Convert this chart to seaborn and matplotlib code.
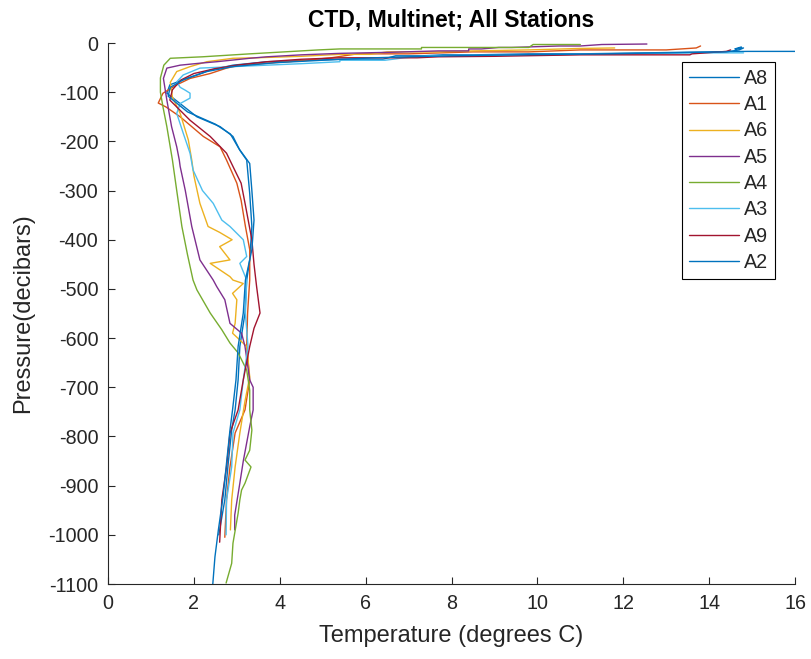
import pandas as pd
import numpy as np
import matplotlib
matplotlib.use("Agg")
import matplotlib.pyplot as plt
import seaborn as sns


#==========================================================================
# CTD profiles: pressure (decibars, negative down) and
# temperature (degrees C) for every Multinet station
#==========================================================================

a8_p = [-17, -17, -18, -20, -22, -22, -24, -24, -26, -26, -33, -33, -38, -45, -55,
        -72, -85, -102, -150, -170, -190, -218, -238, -306, -373, -441, -482,
        -549, -617, -685, -746, -787, -854, -929, -1000]
a8_t = [16.0, 14.9, 14.0, 12.5, 11.0, 9.8, 8.5, 7.8, 7.3, 6.7, 6.4, 5.4, 3.7, 2.91,
        2.38, 1.83, 1.44, 1.37, 2.07, 2.61, 2.91, 3.07, 3.23, 3.30, 3.35, 3.30,
        3.23, 3.19, 3.07, 3.03, 2.96, 2.88, 2.80, 2.72, 2.58]

a1_p = [-6, -8, -10, -14, -14, -18, -18, -22, -22, -30, -35, -38, -41, -45, -51,
        -62, -72, -85, -102, -122, -130, -150, -190, -211, -238, -285, -320, -373,
        -420, -482, -550, -617, -685, -746, -793, -862, -929, -1005]
a1_t = [13.8, 13.75, 13.7, 13.0, 11.0, 9.8, 8.5, 7.0, 5.8, 5.2, 4.6, 4.2, 3.7, 3.07,
        2.76, 2.38, 1.91, 1.60, 1.28, 1.17, 1.35, 1.68, 2.22, 2.61, 2.76, 3.0, 3.1,
        3.2, 3.3, 3.3, 3.25, 3.23, 3.30, 3.19, 2.96, 2.84, 2.76, 2.72]

a6_p = [-10, -11, -14, -16, -18, -18, -23, -23, -27, -30, -31, -38, -48, -58, -80,
        -110, -143, -197, -238, -270, -326, -373, -385, -400, -414, -441, -448,
        -475, -482, -489, -509, -522, -570, -590, -617, -679, -728, -793, -862,
        -929, -990]
a6_t = [11.8, 11.0, 9.8, 8.5, 7.7, 6.5, 6.1, 5.4, 4.5, 3.46, 2.91, 2.3, 1.91, 1.60,
        1.45, 1.50, 1.68, 1.87, 1.95, 2.0, 2.14, 2.33, 2.6, 2.89, 2.6, 2.84, 2.38,
        2.84, 2.91, 3.15, 2.9, 3.0, 2.96, 2.9, 3.23, 3.30, 3.19, 3.07, 2.96, 2.88,
        2.85]

a5_p = [-2, -3, -6, -6, -9, -9, -12, -12, -16, -16, -19, -21, -24, -28, -31, -38,
        -41, -45, -51, -72, -116, -170, -211, -238, -251, -300, -373, -441, -482,
        -495, -522, -570, -590, -617, -685, -700, -746, -780, -850, -895, -960,
        -990]
a5_t = [12.55, 11.5, 11.0, 10.5, 9.4, 9.1, 8.7, 8.4, 8.4, 7.7, 6.5, 5.4, 4.5, 3.7,
        3.3, 2.53, 2.14, 1.68, 1.37, 1.29, 1.37, 1.48, 1.60, 1.66, 1.68, 1.80, 1.95,
        2.14, 2.45, 2.53, 2.72, 2.84, 3.11, 3.19, 3.30, 3.38, 3.38, 3.30, 3.15,
        3.07, 2.95, 2.95]

a4_p = [-3, -3, -9, -9, -12, -12, -14, -18, -22, -28, -31, -45, -71, -100, -130,
        -170, -238, -300, -373, -430, -482, -502, -549, -583, -610, -630, -665,
        -706, -746, -787, -828, -848, -862, -895, -909, -929, -956, -1017, -1058,
        -1098]
a4_t = [11.0, 9.9, 9.8, 7.3, 7.3, 5.4, 4.9, 4.1, 3.3, 2.2, 1.45, 1.30, 1.22, 1.22,
        1.28, 1.37, 1.50, 1.60, 1.72, 1.85, 1.98, 2.07, 2.38, 2.65, 2.84, 3.03,
        3.23, 3.30, 3.30, 3.35, 3.30, 3.19, 3.33, 3.19, 3.11, 3.07, 3.03, 2.91,
        2.88, 2.75]

a3_p = [-20, -20, -22, -24, -26, -30, -35, -35, -38, -42, -45, -48, -51, -65, -79,
        -90, -96, -102, -112, -123, -143, -183, -224, -258, -300, -326, -360, -373,
        -400, -434, -448, -482, -550, -617, -685, -746, -793, -862, -929, -1000]
a3_t = [14.8, 13.6, 12.0, 10.0, 7.5, 6.9, 6.45, 5.4, 5.4, 4.5, 3.7, 2.91, 2.14,
        1.75, 1.60, 1.68, 1.80, 1.91, 1.91, 1.68, 1.60, 1.75, 1.91, 1.98, 2.2, 2.45,
        2.65, 2.84, 3.15, 3.23, 3.07, 3.23, 3.2, 3.26, 3.15, 3.07, 2.91, 2.88, 2.76,
        2.75]

a9_p = [-14, -17, -22, -24, -24, -27, -28, -30, -30, -33, -38, -45, -52, -62, -75,
        -95, -116, -157, -190, -224, -251, -285, -330, -400, -450, -495, -549, -580,
        -617, -685, -746, -793, -862, -929, -1015]
a9_t = [14.5, 14.4, 13.6, 13.55, 11.0, 9.0, 7.7, 7.2, 5.4, 4.5, 3.7, 3.0, 2.5, 2.0,
        1.7, 1.5, 1.44, 1.91, 2.38, 2.76, 2.91, 3.1, 3.2, 3.35, 3.4, 3.46, 3.54,
        3.4, 3.30, 3.15, 3.03, 2.84, 2.76, 2.65, 2.6]

a2_p = [-8, -12, -10, -14, -18, -20, -22, -24, -26, -28, -30, -35, -40, -48, -58,
        -75, -90, -108, -140, -165, -185, -215, -245, -300, -360, -420, -482, -549,
        -617, -685, -746, -787, -854, -922, -990, -1045, -1100]
a2_t = [14.75, 14.6, 14.8, 14.7, 14.4, 13.0, 11.5, 9.5, 8.0, 7.0, 6.2, 5.0, 3.9,
        2.9, 2.3, 1.75, 1.45, 1.4, 1.85, 2.5, 2.85, 3.05, 3.3, 3.35, 3.4, 3.35, 3.2,
        3.15, 3.03, 2.98, 2.9, 2.84, 2.76, 2.68, 2.57, 2.49, 2.44]

stations = ['A8', 'A1', 'A6', 'A5', 'A4', 'A3', 'A9', 'A2']
colors = ['#0072BD', '#D95319', '#EDB120', '#7E2F8E', '#77AC30', '#4DBEEE',
          '#A2142F', '#0072BD']

profiles = {'A8': (a8_p, a8_t), 'A1': (a1_p, a1_t), 'A6': (a6_p, a6_t),
            'A5': (a5_p, a5_t), 'A4': (a4_p, a4_t), 'A3': (a3_p, a3_t),
            'A9': (a9_p, a9_t), 'A2': (a2_p, a2_t)}

frames = []
for st in stations:
    p, t = profiles[st]
    frames.append(pd.DataFrame({'Station': st, 'Pressure': p, 'Temperature': t}))
df_ctd = pd.concat(frames, ignore_index=True)


sns.set_theme(style='white')
plt.rcParams['font.family'] = ['Liberation Sans', 'DejaVu Sans']
plt.rcParams['axes.unicode_minus'] = False
plt.rcParams['axes.edgecolor'] = '#262626'
plt.rcParams['xtick.color'] = '#262626'
plt.rcParams['ytick.color'] = '#262626'

fig = plt.figure(figsize=(8.11, 6.59), dpi=100)
ax = fig.add_axes([0.1332, 0.1138, 0.8471, 0.8209])

sns.lineplot(data=df_ctd, x='Temperature', y='Pressure', hue='Station',
             hue_order=stations, palette=dict(zip(stations, colors)),
             estimator=None, sort=False, linewidth=1.0, ax=ax)

ax.set_xlim(0, 16)
ax.set_ylim(-1100, 0)
ax.set_xticks(np.arange(0, 17, 2))
ax.set_yticks(np.arange(-1100, 1, 100))
ax.tick_params(direction='in', length=5, width=0.8, labelsize=14.2,
               bottom=True, left=True)
ax.tick_params(axis='x', pad=7)
ax.tick_params(axis='y', pad=7)
sns.despine(ax=ax)
for s in ['left', 'bottom']:
    ax.spines[s].set_linewidth(0.8)

ax.set_xlabel('Temperature (degrees C)', fontsize=17, color='#262626', labelpad=9)
ax.set_ylabel('Pressure(decibars)', fontsize=17, color='#262626', labelpad=10)
ax.set_title('CTD, Multinet; All Stations', fontsize=16.5, fontweight='bold',
             color='black', pad=12)

leg = ax.legend(loc='upper left', bbox_to_anchor=(0.8355, 0.965), fontsize=14.2,
                frameon=True, fancybox=False, framealpha=1, handlelength=2.55,
                labelspacing=0.37, borderpad=0.35, handletextpad=0.25,
                borderaxespad=0)
leg.get_frame().set_edgecolor('black')
leg.get_frame().set_linewidth(0.8)

plt.savefig('out.png', dpi=100)
